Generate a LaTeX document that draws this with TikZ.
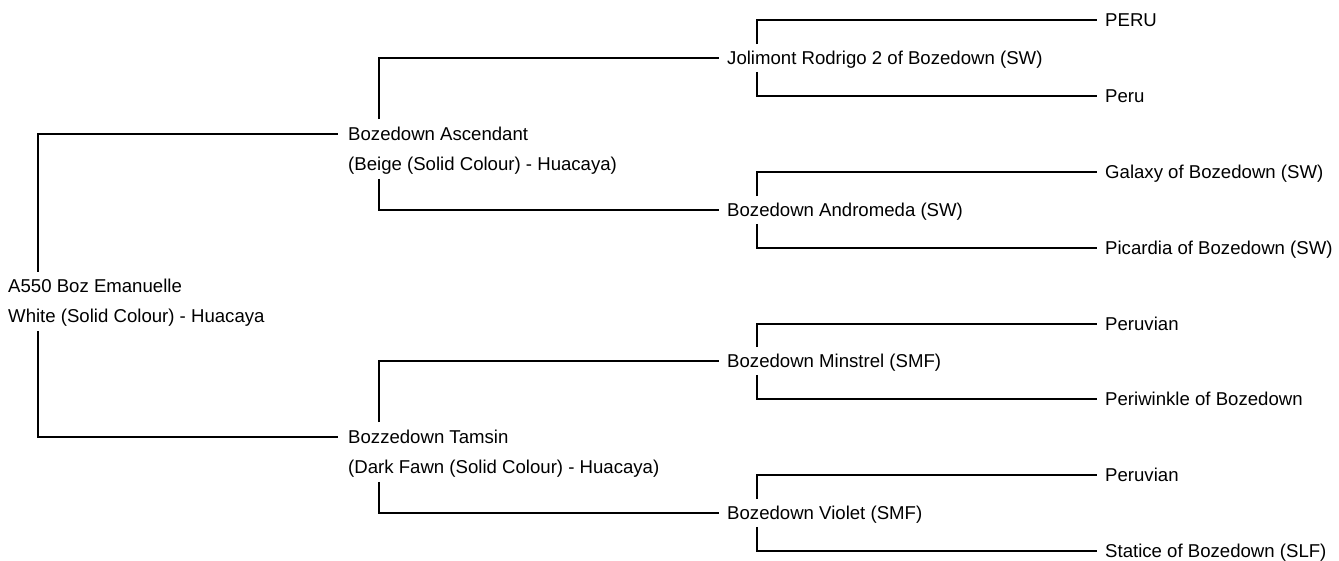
\documentclass[tikz,border=0pt]{standalone}
\usepackage{fontspec}
\setmainfont{Liberation Sans}
\begin{document}
\begin{tikzpicture}[x=1pt,y=-1pt,
  lbl/.style={anchor=west,inner xsep=0pt,inner ysep=0pt,text height=13.3pt,text depth=0pt,
    font=\fontsize{18.6}{20}\selectfont},
  link/.style={draw=black,line width=1.2pt}]
\useasboundingbox (0,0) rectangle (1339,561);
\coordinate (v0) at (38,0);
\coordinate (v1) at (379,0);
\coordinate (v2) at (757,0);
% level 0
\node[lbl] (r1) at (8,286) {A550 Boz Emanuelle};
\node[lbl] (r2) at (8,316) {White (Solid Colour) - Huacaya};
% level 1
\node[lbl] (asc) at (348,134) {Bozedown Ascendant};
\node[lbl] (ascs) at (348,164) {(Beige (Solid Colour) - Huacaya)};
\node[lbl] (tam) at (348,437) {Bozzedown Tamsin};
\node[lbl] (tams) at (348,467) {(Dark Fawn (Solid Colour) - Huacaya)};
% level 2
\node[lbl] (jol) at (727,58) {Jolimont Rodrigo 2 of Bozedown (SW)};
\node[lbl] (andr) at (727,210) {Bozedown Andromeda (SW)};
\node[lbl] (min) at (727,361) {Bozedown Minstrel (SMF)};
\node[lbl] (vio) at (727,513) {Bozedown Violet (SMF)};
% level 3
\node[lbl] (p1) at (1105,20) {PERU};
\node[lbl] (p2) at (1105,96) {Peru};
\node[lbl] (p3) at (1105,172) {Galaxy of Bozedown (SW)};
\node[lbl] (p4) at (1105,248) {Picardia of Bozedown (SW)};
\node[lbl] (p5) at (1105,324) {Peruvian};
\node[lbl] (p6) at (1105,399) {Periwinkle of Bozedown};
\node[lbl] (p7) at (1105,475) {Peruvian};
\node[lbl] (p8) at (1105,551) {Statice of Bozedown (SLF)};
% connectors level 0
\draw[link] ([yshift=7.5pt]r1.north -| v0) |- ([xshift=-10pt]asc.west);
\draw[link] ([yshift=-8pt]r2.south -| v0) |- ([xshift=-10pt]tam.west);
% level 1
\draw[link] ([yshift=8pt]asc.north -| v1) |- ([xshift=-8pt]jol.west);
\draw[link] ([yshift=-8pt]ascs.south -| v1) |- ([xshift=-8pt]andr.west);
\draw[link] ([yshift=8pt]tam.north -| v1) |- ([xshift=-8pt]min.west);
\draw[link] ([yshift=-8pt]tams.south -| v1) |- ([xshift=-8pt]vio.west);
% level 2
\draw[link] ([yshift=7pt]jol.north -| v2) |- ([xshift=-8pt]p1.west);
\draw[link] ([yshift=-7pt]jol.south -| v2) |- ([xshift=-8pt]p2.west);
\draw[link] ([yshift=7pt]andr.north -| v2) |- ([xshift=-8pt]p3.west);
\draw[link] ([yshift=-7pt]andr.south -| v2) |- ([xshift=-8pt]p4.west);
\draw[link] ([yshift=7pt]min.north -| v2) |- ([xshift=-8pt]p5.west);
\draw[link] ([yshift=-7pt]min.south -| v2) |- ([xshift=-8pt]p6.west);
\draw[link] ([yshift=7pt]vio.north -| v2) |- ([xshift=-8pt]p7.west);
\draw[link] ([yshift=-7pt]vio.south -| v2) |- ([xshift=-8pt]p8.west);
\end{tikzpicture}
\end{document}
